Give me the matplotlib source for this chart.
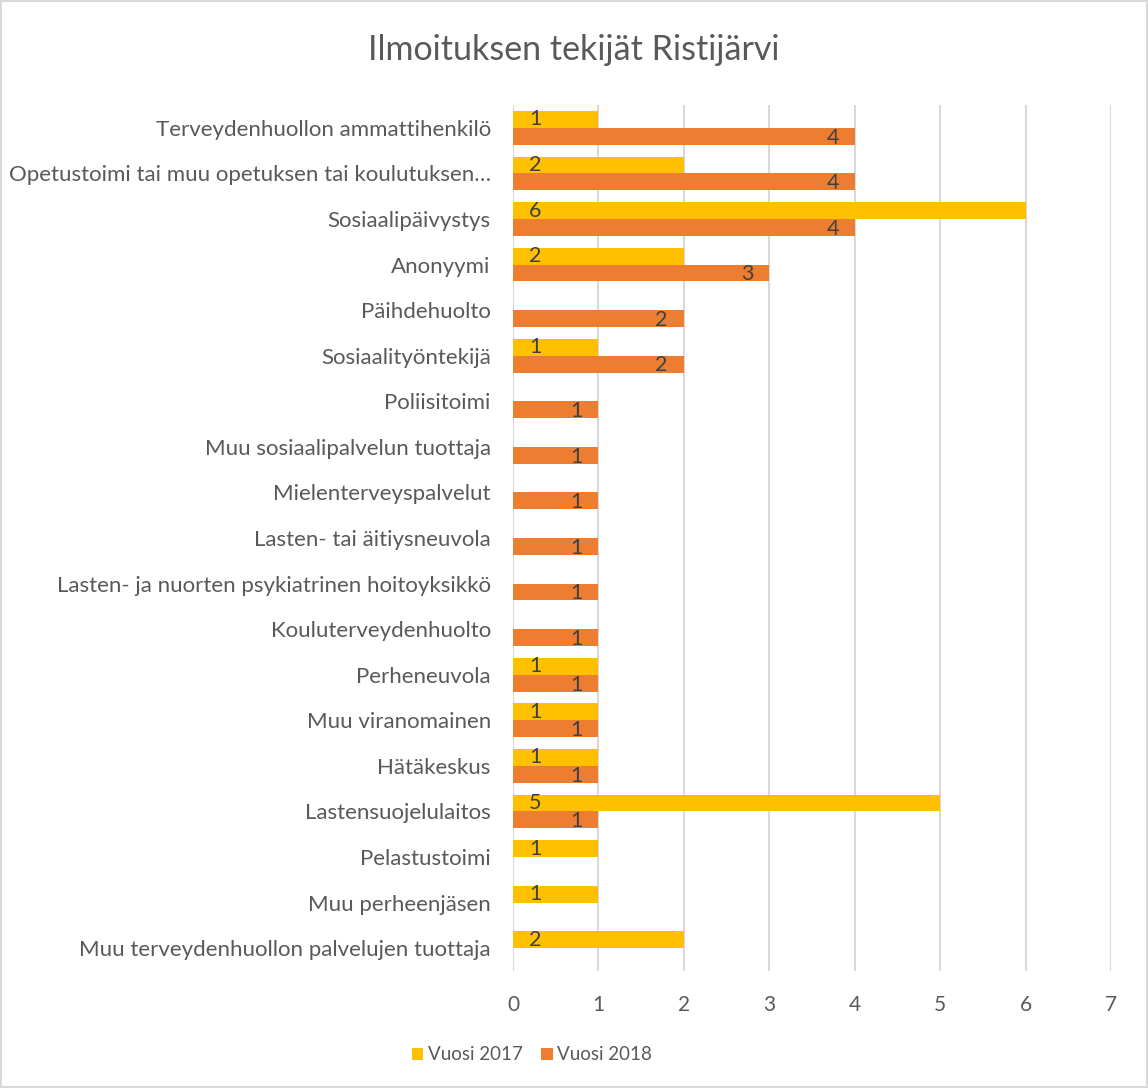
import matplotlib
matplotlib.use("Agg")
import matplotlib.pyplot as plt
from matplotlib.patches import Rectangle, Patch

categories = [
    "Terveydenhuollon ammattihenkilö",
    "Opetustoimi tai muu opetuksen tai koulutuksen…",
    "Sosiaalipäivystys",
    "Anonyymi",
    "Päihdehuolto",
    "Sosiaalityöntekijä",
    "Poliisitoimi",
    "Muu sosiaalipalvelun tuottaja",
    "Mielenterveyspalvelut",
    "Lasten- tai äitiysneuvola",
    "Lasten- ja nuorten psykiatrinen hoitoyksikkö",
    "Kouluterveydenhuolto",
    "Perheneuvola",
    "Muu viranomainen",
    "Hätäkeskus",
    "Lastensuojelulaitos",
    "Pelastustoimi",
    "Muu perheenjäsen",
    "Muu terveydenhuollon palvelujen tuottaja",
]
vuosi_2017 = [1, 2, 6, 2, None, 1, None, None, None, None, None, None, 1, 1, 1, 5, 1, 1, 2]
vuosi_2018 = [4, 4, 4, 3, 2, 2, 1, 1, 1, 1, 1, 1, 1, 1, 1, 1, None, None, None]
series_names = ["Vuosi 2017", "Vuosi 2018"]
x_ticks = [0, 1, 2, 3, 4, 5, 6, 7]

C17 = "#FFC000"
C18 = "#ED7D31"
TXT = "#595959"
LBL = "#404040"
FONT = "Lato"

plt.rcParams["font.family"] = [FONT, "DejaVu Sans"]

fig = plt.figure(figsize=(11.48, 10.88), dpi=100)
ax = fig.add_axes([513/1148, 1-971/1088, (1111-513)/1148, (971-105)/1088])

bh = 0.37
off = 0.185
for i, (a, b) in enumerate(zip(vuosi_2017, vuosi_2018)):
    if a is not None:
        ax.barh(i - off, a, height=bh, color=C17, zorder=3)
        ax.text(0.26, i - off, str(a), ha="center", va="center", fontsize=15.5, color=LBL, zorder=4)
    if b is not None:
        ax.barh(i + off, b, height=bh, color=C18, zorder=3)
        ax.text(b - 0.26, i + off + 0.03, str(b), ha="center", va="center", fontsize=15.5, color=LBL, zorder=4)

ax.set_ylim(len(categories) - 0.5, -0.5)
ax.set_xlim(0, 7)
ax.set_yticks(range(len(categories)))
ax.set_yticklabels(categories, fontsize=16, color=TXT)
ax.set_xticks(x_ticks)
ax.set_xticklabels([str(t) for t in x_ticks], fontsize=15, color=TXT)
ax.tick_params(axis="y", length=0, pad=16)
ax.tick_params(axis="x", length=0, pad=17)
ax.grid(axis="x", color="#D9D9D9", linewidth=1.5, zorder=0)
for s in ax.spines.values():
    s.set_visible(False)

fig.text(0.5, 1-50/1088, "Ilmoituksen tekijät Ristijärvi", ha="center", va="center",
         fontsize=24.5, color=TXT)

handles = [Patch(facecolor=C17, edgecolor="none"), Patch(facecolor=C18, edgecolor="none")]
fig.legend(handles, series_names, loc="center", bbox_to_anchor=(532/1148, 1-1055/1088), ncol=2,
           frameon=False, fontsize=13.5, labelcolor=TXT, handlelength=0.6, handleheight=0.6,
           handletextpad=0.25, columnspacing=1.0)

fig.patches.append(Rectangle((0.001, 0.001), 0.998, 0.998, transform=fig.transFigure,
                             fill=False, edgecolor="#D9D9D9", linewidth=1.5))

fig.savefig("out.png", dpi=100, facecolor="white")
